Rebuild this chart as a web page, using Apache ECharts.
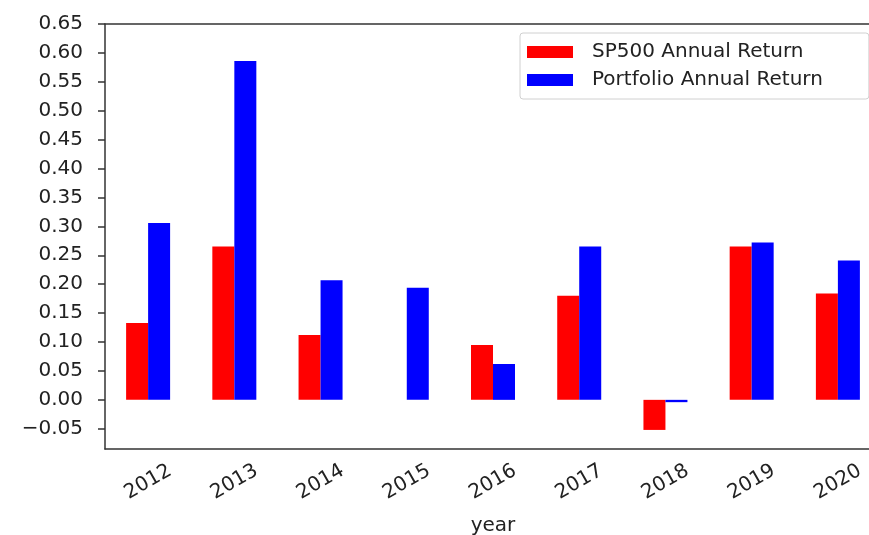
<!DOCTYPE html>
<html>
<head>
<meta charset="utf-8">
<script src="https://cdn.jsdelivr.net/npm/echarts@6/dist/echarts.min.js"></script>
<style>
html,body{margin:0;padding:0;background:#fff;overflow:hidden;}
#chart{width:869px;height:535px;}
</style>
</head>
<body>
<div id="chart"></div>
<script>
const years = ['2012','2013','2014','2015','2016','2017','2018','2019','2020'];
const sp500Returns = [0.133, 0.265, 0.112, 0.0, 0.095, 0.180, -0.052, 0.265, 0.184];
const portfolioReturns = [0.306, 0.586, 0.207, 0.194, 0.062, 0.265, -0.004, 0.272, 0.241];
const yTicks = [-0.05, 0, 0.05, 0.10, 0.15, 0.20, 0.25, 0.30, 0.35, 0.40, 0.45, 0.50, 0.55, 0.60, 0.65];
const seriesNames = ['SP500 Annual Return', 'Portfolio Annual Return'];

const font = 'DejaVu Sans';
const chart = echarts.init(document.getElementById('chart'), null, {renderer: 'canvas'});
chart.setOption({
  animation: false,
  backgroundColor: '#fff',
  grid: {
    left: 105, width: 776, top: 24, height: 425,
    outerBoundsMode: 'none',
    containLabel: false,
    show: false
  },
  legend: {
    data: seriesNames,
    orient: 'vertical',
    left: 520, top: 33,
    icon: 'rect',
    itemWidth: 46, itemHeight: 12,
    itemGap: 8,
    padding: [9, 46, 9, 7],
    borderColor: '#d0d0d0', borderWidth: 1, borderRadius: 3,
    textStyle: {fontFamily: font, fontSize: 20, color: '#222', padding: [0, 0, 0, 14]}
  },
  xAxis: [{
    type: 'category',
    data: years,
    name: 'year',
    nameLocation: 'middle',
    nameGap: 67,
    nameTextStyle: {fontFamily: font, fontSize: 20, color: '#222'},
    axisLine: {onZero: false, lineStyle: {color: '#333', width: 1.5}},
    axisTick: {alignWithLabel: true, length: 7, lineStyle: {color: '#333', width: 1.5}},
    axisLabel: {
      rotate: 30, align: 'center', verticalAlign: 'middle', margin: 33,
      fontFamily: font, fontSize: 20, color: '#222'
    },
    splitLine: {show: false}
  }, {
    type: 'category',
    data: years,
    position: 'top',
    axisLine: {show: true, onZero: false, lineStyle: {color: '#333', width: 1.5}},
    axisTick: {show: false},
    axisLabel: {show: false},
    splitLine: {show: false}
  }],
  yAxis: {
    type: 'value',
    min: -0.085, max: 0.65,
    axisLine: {show: true, onZero: false, lineStyle: {color: '#333', width: 1.5}},
    axisTick: {show: true, length: 7, customValues: yTicks, lineStyle: {color: '#333', width: 1.5}},
    axisLabel: {
      customValues: yTicks, margin: 22,
      fontFamily: font, fontSize: 20, color: '#222',
      formatter: v => (v < 0 ? '\u2212' + Math.abs(v).toFixed(2) : v.toFixed(2))
    },
    splitLine: {show: false}
  },
  series: [
    {name: seriesNames[0], type: 'bar', data: sp500Returns, barWidth: 22, barGap: '0%',
     itemStyle: {color: '#ff0000'}},
    {name: seriesNames[1], type: 'bar', data: portfolioReturns, barWidth: 22, barGap: '0%',
     itemStyle: {color: '#0000ff'}}
  ]
});
</script>
</body>
</html>
